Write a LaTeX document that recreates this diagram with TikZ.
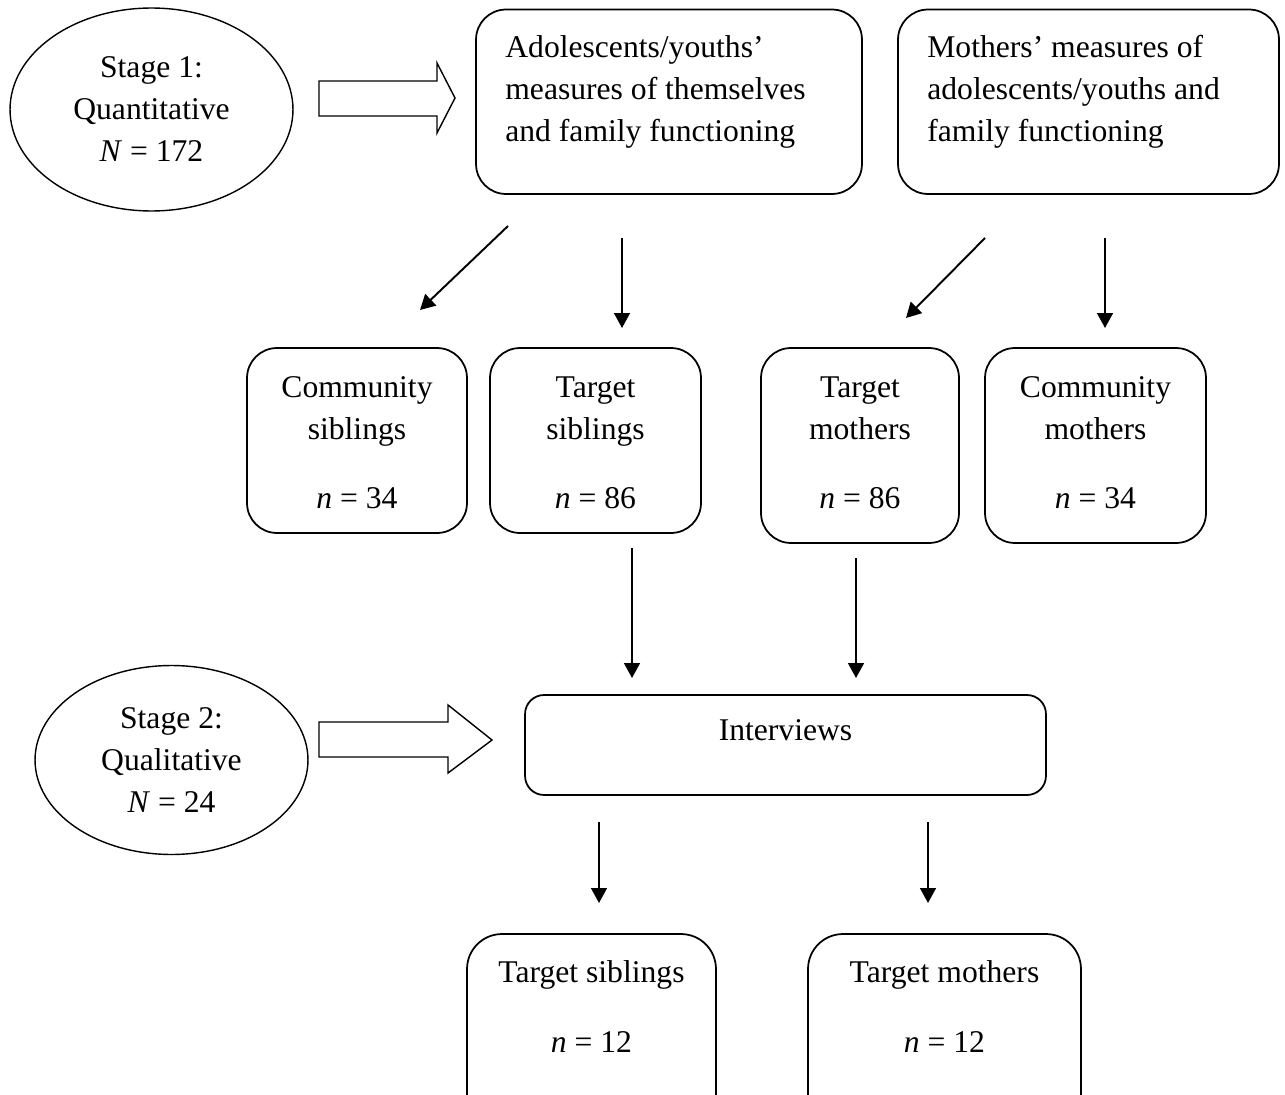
\documentclass[tikz,border=0pt]{standalone}
\usepackage{fontspec}
\setmainfont{Liberation Serif}
\usetikzlibrary{shapes.geometric,arrows.meta,positioning}
\tikzset{
  box/.style={draw, line width=1pt, rounded corners=0.6cm, inner sep=0pt},
  stage/.style={draw, ellipse, line width=0.8pt, inner sep=0pt, align=center},
  txt/.style={inner sep=0pt},
  arrow/.style={line width=1.1pt, -{Triangle[length=8.5pt,width=9pt]}},
  fatarrow/.style={draw, line width=0.8pt, line join=miter}
}
\begin{document}
\begin{tikzpicture}[x=0.02cm, y=-0.02cm, font=\fontsize{18}{23.9}\selectfont]
\useasboundingbox (0,0) rectangle (1285,1095);
\clip (0,0) rectangle (1285,1095);
\node[stage, minimum width=5.66cm, minimum height=4.06cm] (stage1) at (151.5,109.5) {Stage 1:\\Quantitative\\\textit{N} = 172};
\node[stage, minimum width=5.46cm, minimum height=3.78cm] (stage2) at (171.5,760) {Stage 2:\\Qualitative\\\textit{N} = 24};
\draw[fatarrow] (319,81) -- (437,81) -- (437,63) -- (455,98) -- (437,133) -- (437,116) -- (319,116) -- cycle;
\draw[fatarrow] (319,722) -- (448,722) -- (448,705) -- (492,740) -- (448,773) -- (448,757) -- (319,757) -- cycle;
\node[box, minimum width=7.72cm, minimum height=3.69cm] (adol) at (669,101.75) {};
\node[box, minimum width=7.62cm, minimum height=3.69cm] (moth) at (1088.5,101.75) {};
\node[txt, anchor=north west, align=left] (adolT) at (505,35) {Adolescents/youths’\\measures of themselves\\and family functioning};
\node[txt, anchor=north west, align=left] (mothT) at (927,35) {Mothers’ measures of\\adolescents/youths and\\family functioning};
\node[box, minimum width=4.4cm, minimum height=3.7cm] (comsib) at (357,440.5) {};
\node[box, minimum width=4.22cm, minimum height=3.7cm] (tarsib) at (595.5,440.5) {};
\node[box, minimum width=3.96cm, minimum height=3.9cm] (tarmoth) at (860,445.5) {};
\node[box, minimum width=4.42cm, minimum height=3.9cm] (commoth) at (1095.5,445.5) {};
\node[txt, anchor=north, align=center] (comsibT) at (357,376) {Community\\siblings\\[15.5pt]\textit{n} = 34};
\node[txt, anchor=north, align=center] (tarsibT) at (595.5,376) {Target\\siblings\\[15.5pt]\textit{n} = 86};
\node[txt, anchor=north, align=center] (tarmothT) at (860,376) {Target\\mothers\\[15.5pt]\textit{n} = 86};
\node[txt, anchor=north, align=center] (commothT) at (1095.5,376) {Community\\mothers\\[15.5pt]\textit{n} = 34};
\node[box, rounded corners=0.38cm, minimum width=10.42cm, minimum height=2cm] (interv) at (785.5,745) {};
\node[txt, anchor=north] (intervT) at (785.5,719) {Interviews};
\node[box, rounded corners=0.7cm, minimum width=4.98cm, minimum height=4.12cm] (tarsibq) at (591.5,1037) {};
\node[box, rounded corners=0.7cm, minimum width=5.46cm, minimum height=4.12cm] (tarmothq) at (944.5,1037) {};
\node[txt, anchor=north, align=center] (tarsibqT) at (591.5,960) {Target siblings\\[15.8pt]\textit{n} = 12};
\node[txt, anchor=north, align=center] (tarmothqT) at (944.5,960) {Target mothers\\[15.8pt]\textit{n} = 12};
\coordinate (a1) at (508,226); \coordinate (a1e) at (420,310);
\coordinate (a2) at (622,238); \coordinate (a2e) at (622,328);
\coordinate (a3) at (985,238); \coordinate (a3e) at (906,318);
\coordinate (a4) at (1105,238); \coordinate (a4e) at (1105,328);
\coordinate (a5) at (632,548); \coordinate (a5e) at (632,678);
\coordinate (a6) at (856,558); \coordinate (a6e) at (856,678);
\coordinate (a7) at (599,822); \coordinate (a7e) at (599,903);
\coordinate (a8) at (928,822); \coordinate (a8e) at (928,903);
\foreach \n in {1,...,8} \draw[arrow] (a\n) -- (a\n e);
\end{tikzpicture}
\end{document}
